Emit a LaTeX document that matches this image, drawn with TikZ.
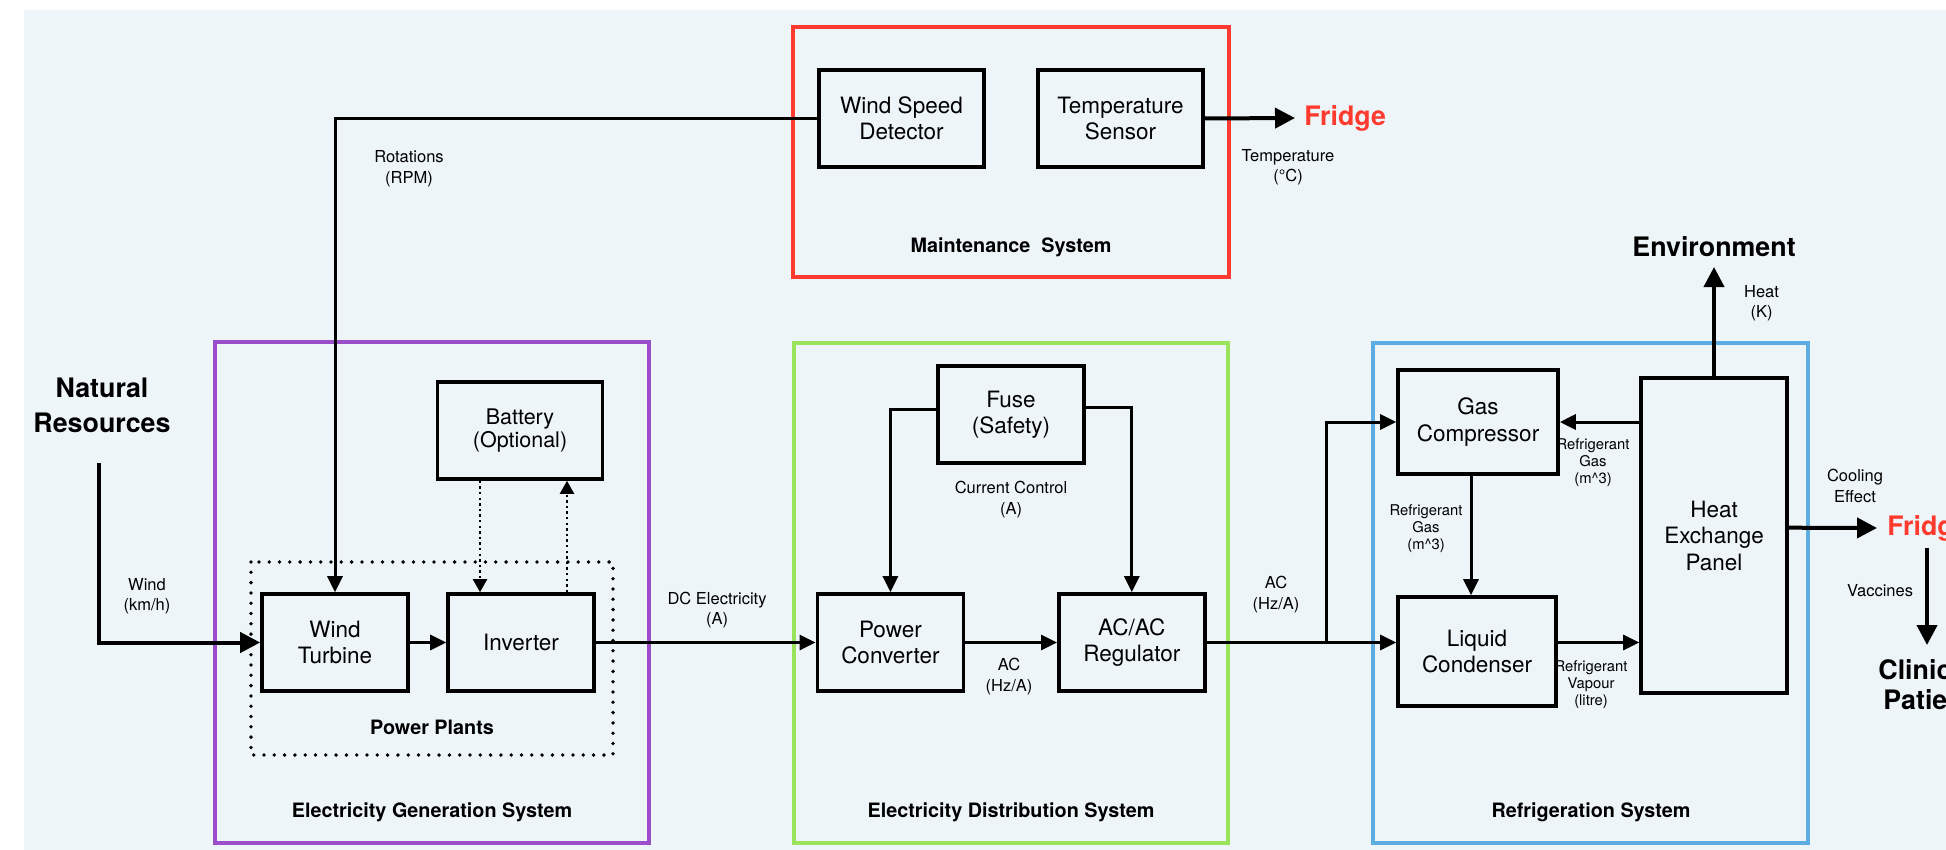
\documentclass[tikz,border=0pt]{standalone}
\usepackage{fontspec}
\setmainfont{TeX Gyre Heros}
\usetikzlibrary{arrows.meta,calc}
\definecolor{bgc}{HTML}{EEF5F9}
\definecolor{redc}{HTML}{FF3B30}
\definecolor{purc}{HTML}{9B4DCA}
\definecolor{grnc}{HTML}{9BE35A}
\definecolor{bluc}{HTML}{5DADE2}
\begin{document}
\begin{tikzpicture}[x=0.5pt,y=-0.5pt,
  blk/.style={draw, line width=1.8pt, align=center, inner sep=0pt, minimum width=73pt, minimum height=48.5pt, font=\fontsize{11.25pt}{13.25pt}\selectfont},
  lbl/.style={align=center, inner sep=0pt, font=\fontsize{8.25pt}{10.25pt}\selectfont},
  rlbl/.style={align=center, inner sep=0pt, font=\fontsize{7.4pt}{8.5pt}\selectfont},
  ttl/.style={align=center, inner sep=0pt, font=\bfseries\fontsize{13.4pt}{17.5pt}\selectfont},
  sec/.style={inner sep=0pt, font=\bfseries\fontsize{9.9pt}{12pt}\selectfont},
  frame/.style={line width=1.65pt},
  con/.style={line width=1.5pt, -{Triangle[length=8pt,width=7.5pt]}},
  thk/.style={line width=2pt, -{Triangle[length=10pt,width=10pt]}},
  dcon/.style={line width=1.1pt, dash pattern=on 1.2pt off 1.6pt, -{Triangle[length=6.5pt,width=7pt]}},
  ppbox/.style={line width=1.9pt, dash pattern=on 0pt off 5.15pt, line cap=round}
]
\useasboundingbox (0,0) rectangle (1946,850);
\clip (0,0) rectangle (1946,850);
\fill[white] (0,0) rectangle (1946,850);
\fill[bgc] (24,10) rectangle (1946,850);

% frames
\draw[frame, redc] (793,27) rectangle (1229,277);
\draw[frame, purc] (215,342) rectangle (649,843);
\draw[frame, grnc] (794,343) rectangle (1228,843);
\draw[frame, bluc] (1373,343) rectangle (1808,843);
\draw[ppbox] (251,562) rectangle (613,755);

% section labels
\node[sec] (msys) at (1011,247) {Maintenance~ System};
\node[sec] (egs) at (432,812) {Electricity Generation System};
\node[sec] (eds) at (1011,812) {Electricity Distribution System};
\node[sec] (rsys) at (1591,812) {Refrigeration System};
\node[sec] (pp) at (432,727) {Power Plants};

% blocks
\node[blk, minimum width=82.5pt] (wsd) at (901.5,118.5) {Wind Speed\\Detector};
\node[blk, minimum width=82.5pt] (ts) at (1120.5,118.5) {Temperature\\Sensor};
\node[blk, minimum width=82.5pt, font=\fontsize{10.75pt}{11.75pt}\selectfont] (bat) at (520,430.5) {Battery\\(Optional)};
\node[blk] (wt) at (335,642.5) {Wind\\Turbine};
\node[blk] (inv) at (521,642.5) {Inverter};
\node[blk] (fuse) at (1011,414.5) {Fuse\\(Safety)};
\node[blk] (pc) at (890.4,642.5) {Power\\Converter};
\node[blk] (reg) at (1131.8,642.5) {AC/AC\\Regulator};
\node[blk, minimum width=80pt, minimum height=52pt] (gc) at (1478,422) {Gas\\Compressor};
\node[blk, minimum width=79pt, minimum height=54.5pt] (lc) at (1477,651.5) {Liquid\\Condenser};
\node[blk, minimum height=157.5pt] (hep) at (1714,535.5) {Heat\\Exchange\\Panel};

% titles
\node[ttl] (nr) at (102,405.5) {Natural\\Resources};
\node[ttl] (env) at (1714,247) {Environment};
\node[ttl, text=redc, anchor=west, inner xsep=4.5pt] (fr1) at (1295,118) {Fridge};
\node[ttl, text=redc, anchor=west, inner xsep=5pt] (fr2) at (1877,528) {Fridge};
\node[ttl, anchor=west] (cl1) at (1878,670) {Clinics};
\node[ttl, anchor=west] (cl2) at (1883,700) {Patients};

% labels
\node[lbl] (lwind) at (147,596) {Wind\\(km/h)};
\node[lbl] (lrot) at (409,168.5) {Rotations\\(RPM)};
\node[lbl] (ldc) at (717,610) {DC Electricity\\(A)};
\node[lbl] (ltemp) at (1288,167) {Temperature\\(°C)};
\node[lbl] (lcur) at (1011,499.5) {Current Control\\(A)};
\node[lbl] (lac1) at (1009,676.5) {AC\\(Hz/A)};
\node[lbl] (lac2) at (1276,594.5) {AC\\(Hz/A)};
\node[rlbl] (lrg1) at (1593,463) {Refrigerant\\Gas\\(m\textasciicircum 3)};
\node[rlbl] (lrg2) at (1426,529) {Refrigerant\\Gas\\(m\textasciicircum 3)};
\node[rlbl] (lrv) at (1591,685) {Refrigerant\\Vapour\\(litre)};
\node[lbl] (lheat) at (1761.5,303) {Heat\\(K)};
\node[lbl] (lcool) at (1855,486) {Cooling\\Effect};
\node[lbl] (lvac) at (1880,591) {Vaccines};

% connectors
\coordinate (nrs) at (99,463);
\draw[thk] (nrs) |- (wt.west);
\draw[con] (wsd.west) -| (wt.north);
\draw[con] (wt.east) -- (inv.west);
\draw[dcon] ([xshift=-20pt]bat.south) -- ([xshift=-20pt]bat.south |- inv.north);
\draw[dcon] ([xshift=23pt]inv.north) -- ([xshift=23pt]inv.north |- bat.south);
\draw[con] (inv.east) -- (pc.west);
\draw[con] ([yshift=2.75pt]fuse.west) -| (pc.north);
\draw[con] ([yshift=3.75pt]fuse.east) -| (reg.north);
\draw[con] (pc.east) -- (reg.west);
\coordinate (br) at (1326,642.5);
\draw[con] (reg.east) -- (reg.east -| lc.west);
\draw[con] (br) |- (gc.west);
\draw[con] (hep.west |- gc.east) -- (gc.east);
\draw[con] ([xshift=-3.5pt]gc.south) -- ([xshift=-3.5pt]gc.south |- lc.north);
\draw[con] (lc.east |- reg.east) -- (hep.west |- reg.east);
\coordinate (envp) at (1714,267);
\draw[thk] (hep.north) -- (envp);
\draw[thk] ([yshift=3.9pt]hep.east) -- (fr2.west);
\draw[thk] (ts.east) -- (fr1.west);
\coordinate (vt) at (1927,548);
\coordinate (vb) at (1927,645);
\draw[thk] (vt) -- (vb);
\end{tikzpicture}
\end{document}
